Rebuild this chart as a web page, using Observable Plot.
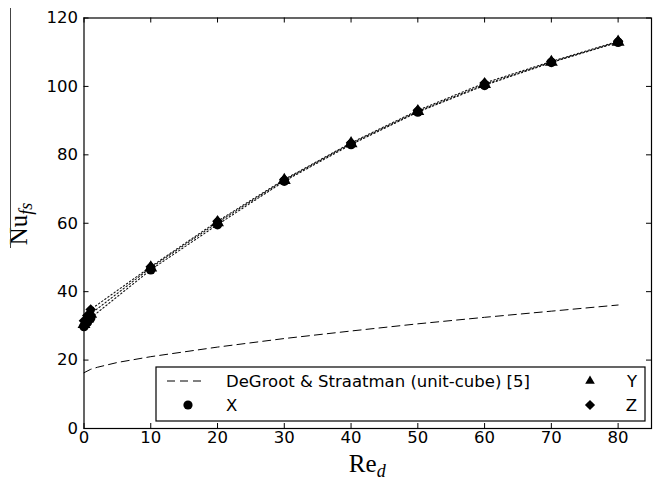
<!DOCTYPE html>
<html><head><meta charset="utf-8">
<script src="https://cdn.jsdelivr.net/npm/d3@7"></script>
<script src="https://cdn.jsdelivr.net/npm/@observablehq/plot@0.6"></script>
<style>
body{margin:0;background:#fff;}
#chart{position:relative;width:653px;height:481px;}
</style>
</head><body><div id="chart"></div>
<script>
// Simulation data
const re  = [0, 0.5, 1, 10, 20, 30, 40, 50, 60, 70, 80];
const nuX = [29.8, 31.0, 32.3, 46.4, 59.6, 72.3, 83.0, 92.5, 100.3, 107.0, 112.9];
const nuY = [30.5, 32.0, 33.5, 47.0, 60.2, 72.6, 83.3, 92.7, 100.6, 107.1, 113.0];
const nuZ = [31.5, 33.0, 34.8, 47.3, 60.6, 72.8, 83.5, 93.0, 101.0, 107.3, 113.2];
// DeGroot & Straatman correlation (dashed)
const reDG = [0, 1, 2, 5, 10, 20, 30, 40, 50, 60, 70, 80];
const nuDG = [16.3, 17.3, 17.9, 19.3, 21.0, 23.8, 26.3, 28.5, 30.6, 32.5, 34.3, 36.1];
const xTicks = [0, 10, 20, 30, 40, 50, 60, 70, 80];
const yTicks = [0, 20, 40, 60, 80, 100, 120];
const seriesNames = ["X", "Y", "Z"];

const rows = [];
[nuX, nuY, nuZ].forEach((arr, i) => arr.forEach((v, j) => rows.push({s: seriesNames[i], re: re[j], nu: v})));
const dg = reDG.map((r, i) => ({re: r, nu: nuDG[i]}));

const W = 653, H = 481, mL = 83.5, mR = 2, mT = 17.5, mB = 53;
const pw = W - mL - mR, ph = H - mT - mB, tk = 5;
const FS = 16.5;

const plot = Plot.plot({
  width: W, height: H,
  marginLeft: mL, marginRight: mR, marginTop: mT, marginBottom: mB,
  style: {fontFamily: "DejaVu Sans", fontSize: FS + "px", color: "black", background: "white", overflow: "visible"},
  x: {domain: [0, 85]},
  y: {domain: [0, 120]},
  marks: [
    Plot.axisX({ticks: xTicks, tickSize: 0, tickPadding: 3, label: null, fontSize: FS}),
    Plot.axisY({ticks: yTicks, tickSize: 0, tickPadding: 6, label: null, fontSize: FS}),
    Plot.line(dg, {x: "re", y: "nu", stroke: "black", strokeWidth: 1, strokeDasharray: "8,5"}),
    Plot.line(rows, {x: "re", y: "nu", z: "s", stroke: "#111", strokeWidth: 1.1, strokeDasharray: "1.4,2.4"}),
    Plot.dot(rows.filter(d => d.s === "X"), {x: "re", y: "nu", r: 4.8, fill: "black", symbol: "circle"}),
    Plot.dot(rows.filter(d => d.s === "Z"), {x: "re", y: "nu", r: 4.8, fill: "black", symbol: "diamond2"}),
    Plot.dot(rows.filter(d => d.s === "Y"), {x: "re", y: "nu", r: 4.8, fill: "black", symbol: "triangle"}),
    Plot.tickX(xTicks, {x: d => d, insetTop: ph - tk, stroke: "black"}),
    Plot.tickX(xTicks, {x: d => d, insetBottom: ph - tk, stroke: "black"}),
    Plot.tickY(yTicks, {y: d => d, insetRight: pw - tk, stroke: "black"}),
    Plot.tickY(yTicks, {y: d => d, insetLeft: pw - tk, stroke: "black"}),
    Plot.frame({stroke: "black", strokeWidth: 1.2})
  ]
});

const svg = d3.select(plot);

// Legend
const lg = svg.append("g").attr("font-family", "DejaVu Sans").attr("font-size", FS).attr("text-anchor", "start");
lg.append("rect").attr("x", 156).attr("y", 367).attr("width", 489).attr("height", 54)
  .attr("fill", "white").attr("stroke", "black").attr("stroke-width", 1.2);
lg.append("line").attr("x1", 167).attr("x2", 203).attr("y1", 381).attr("y2", 381)
  .attr("stroke", "black").attr("stroke-dasharray", "8,5");
lg.append("text").attr("x", 226).attr("y", 381).attr("dy", "0.35em").attr("text-anchor", "start").text("DeGroot & Straatman (unit-cube) [5]");
lg.append("path").attr("d", d3.symbol(d3.symbolCircle, Math.PI * 4.6 * 4.6)()).attr("transform", "translate(188,405)");
lg.append("text").attr("x", 226).attr("y", 405).attr("dy", "0.35em").attr("text-anchor", "start").text("X");
lg.append("path").attr("d", d3.symbol(d3.symbolTriangle2, Math.PI * 4.6 * 4.6)()).attr("transform", "translate(590,381)");
lg.append("text").attr("x", 637).attr("y", 381).attr("dy", "0.35em").attr("text-anchor", "end").text("Y");
lg.append("path").attr("d", d3.symbol(d3.symbolDiamond2, Math.PI * 4.6 * 4.6)()).attr("transform", "translate(590,405)");
lg.append("text").attr("x", 637).attr("y", 405).attr("dy", "0.35em").attr("text-anchor", "end").text("Z");

// Axis labels
const xl = svg.append("text").attr("x", mL + pw / 2).attr("y", 472).attr("text-anchor", "middle")
  .attr("font-family", "Liberation Serif").attr("font-size", 25);
xl.append("tspan").text("Re");
xl.append("tspan").attr("font-style", "italic").attr("font-size", 18).attr("dy", 5).text("d");

const yl = svg.append("text").attr("transform", "translate(27,224) rotate(-90)").attr("text-anchor", "middle")
  .attr("font-family", "Liberation Serif").attr("font-size", 25);
yl.append("tspan").text("Nu");
yl.append("tspan").attr("font-style", "italic").attr("font-size", 18).attr("dy", 5).text("fs");

svg.append("line").attr("x1", 10.5).attr("x2", 10.5).attr("y1", 8).attr("y2", 248)
  .attr("stroke", "#444").attr("stroke-width", 1);

document.getElementById("chart").appendChild(plot);
</script>
</body></html>
